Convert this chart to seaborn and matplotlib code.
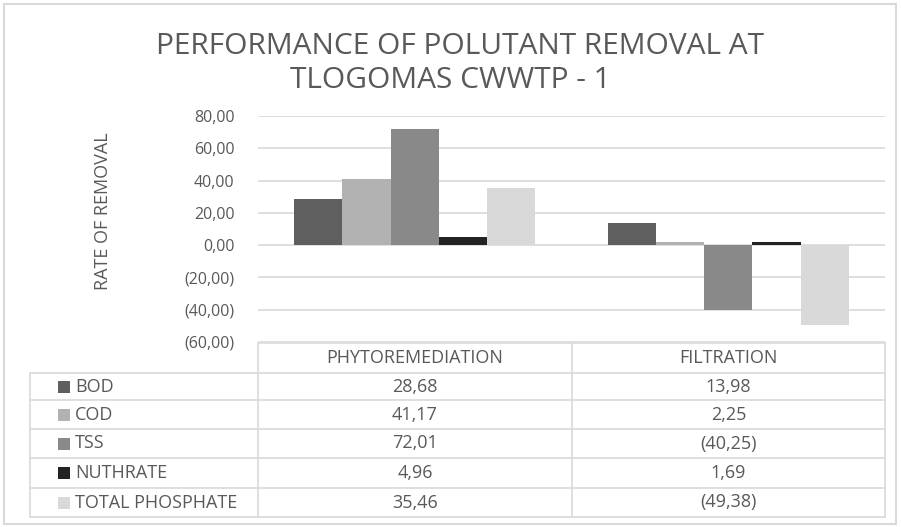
import matplotlib
matplotlib.use("Agg")
import matplotlib.pyplot as plt
import seaborn as sns
import pandas as pd
from matplotlib.patches import Rectangle
from matplotlib.lines import Line2D

# ---- data ----
categories = ["PHYTOREMEDIATION", "FILTRATION"]
series = ["BOD", "COD", "TSS", "NUTHRATE", "TOTAL PHOSPHATE"]
bod = [28.68, 13.98]
cod = [41.17, 2.25]
tss = [72.01, -40.25]
nuthrate = [4.96, 1.69]
total_phosphate = [35.46, -49.38]
colors = ["#5f5f5f", "#b2b2b2", "#898989", "#232323", "#d9d9d9"]
y_ticks = [-60, -40, -20, 0, 20, 40, 60, 80]

values = [bod, cod, tss, nuthrate, total_phosphate]
rows = []
for s, vals in zip(series, values):
    for c, v in zip(categories, vals):
        rows.append({"cat": c, "series": s, "value": v})
df = pd.DataFrame(rows)

sns.set_theme(style="white")
plt.rcParams["font.family"] = ["Open Sans", "DejaVu Sans"]

W, H = 901, 527
fig = plt.figure(figsize=(W / 100, H / 100), dpi=100)
fig.patch.set_facecolor("white")

def fx(px):
    return px / W

def fy(py):
    return 1 - py / H

TXT = "#595959"

ax_l, ax_r, ax_t, ax_b = 258, 885, 116, 342
ax = fig.add_axes([fx(ax_l), fy(ax_b), fx(ax_r) - fx(ax_l), fy(ax_t) - fy(ax_b)])
sns.barplot(data=df, x="cat", y="value", hue="series", order=categories,
            hue_order=series, palette=colors, width=0.77, saturation=1,
            ax=ax, legend=False, linewidth=0, zorder=3)
ax.set_ylim(-60, 80)
ax.set_xlim(-0.5, 1.5)
ax.set_yticks(y_ticks)

def fmt(v):
    s = f"{abs(v):.2f}".replace(".", ",")
    return f"({s})" if v < 0 else s

ax.set_yticklabels([fmt(v) for v in y_ticks], color=TXT, fontsize=11.5)
ax.set_xticks([])
ax.set_xlabel("")
ax.set_ylabel("")
for sp in ax.spines.values():
    sp.set_visible(False)
ax.yaxis.grid(True, color="#d9d9d9", linewidth=1.2, zorder=0)
ax.set_axisbelow(True)
ax.tick_params(axis="y", which="major", length=0, pad=17)

# Y label
fig.text(fx(103), fy(211), "RATE OF REMOVAL", rotation=90, ha="center", va="center",
         color=TXT, fontsize=13)

# Title
fig.text(fx(460), fy(46), "PERFORMANCE OF POLUTANT REMOVAL AT", ha="center", va="center",
         color=TXT, fontsize=21.5)
fig.text(fx(450), fy(80), "TLOGOMAS CWWTP - 1", ha="center", va="center",
         color=TXT, fontsize=21.5)

# Outer border of chart
fig.patches.append(Rectangle((fx(4), fy(524)), fx(896) - fx(4), fy(4) - fy(524),
                             transform=fig.transFigure, fill=False,
                             edgecolor="#d9d9d9", linewidth=1.5))

# ---- data table ----
lc = "#d9d9d9"
tx0, tx1, tx2, tx3 = 30, 258, 572, 885
ty_head = 343
row_y = [373, 400, 429, 458, 488, 517]

def hline(x0, x1, y):
    fig.lines.append(Line2D([fx(x0), fx(x1)], [fy(y), fy(y)], transform=fig.transFigure,
                            color=lc, linewidth=1.2))

def vline(x, y0, y1):
    fig.lines.append(Line2D([fx(x), fx(x)], [fy(y0), fy(y1)], transform=fig.transFigure,
                            color=lc, linewidth=1.2))

hline(tx1, tx3, ty_head)
for y in row_y:
    hline(tx0, tx3, y)
vline(tx1, ty_head, row_y[-1])
vline(tx2, ty_head, row_y[-1])
vline(tx3, ty_head, row_y[-1])
vline(tx0, row_y[0], row_y[-1])

fs = 13
fig.text(fx((tx1 + tx2) / 2), fy((ty_head + row_y[0]) / 2), categories[0],
         ha="center", va="center", color=TXT, fontsize=fs)
fig.text(fx((tx2 + tx3) / 2), fy((ty_head + row_y[0]) / 2), categories[1],
         ha="center", va="center", color=TXT, fontsize=fs)

for i, (s, vals, col) in enumerate(zip(series, values, colors)):
    yc = (row_y[i] + row_y[i + 1]) / 2
    fig.patches.append(Rectangle((fx(58), fy(yc + 6)), fx(12), fy(yc - 6) - fy(yc + 6),
                                 transform=fig.transFigure, facecolor=col, edgecolor="none"))
    fig.text(fx(75), fy(yc), s, ha="left", va="center", color=TXT, fontsize=fs)
    fig.text(fx((tx1 + tx2) / 2), fy(yc), fmt(vals[0]), ha="center", va="center",
             color=TXT, fontsize=fs)
    fig.text(fx((tx2 + tx3) / 2), fy(yc), fmt(vals[1]), ha="center", va="center",
             color=TXT, fontsize=fs)

fig.savefig("out.png", dpi=100, facecolor="white")
